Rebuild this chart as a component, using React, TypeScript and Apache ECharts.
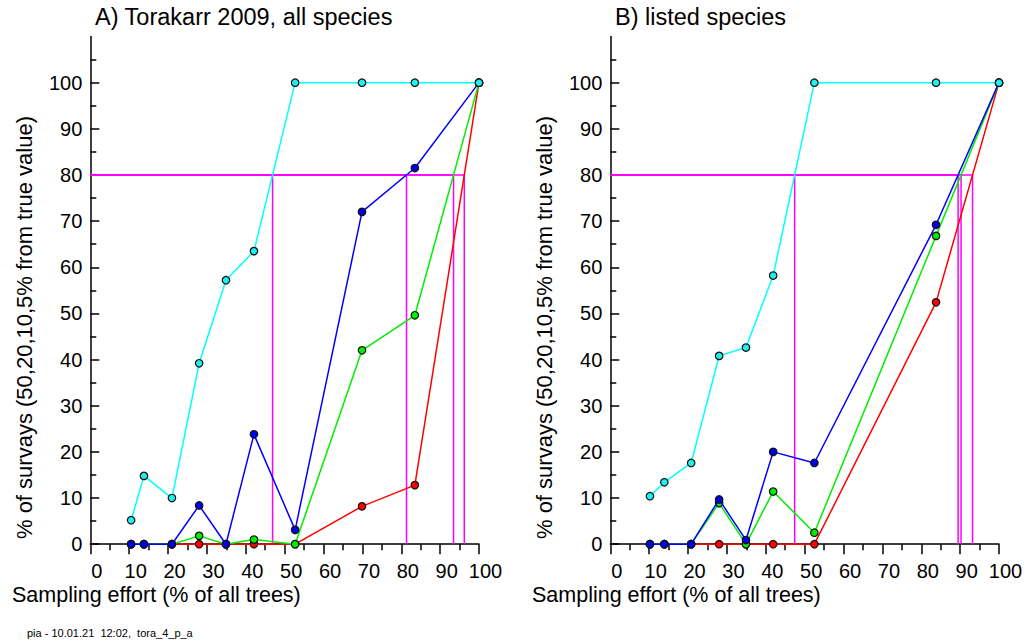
import React, { useEffect, useRef } from "react";
import * as echarts from "echarts";

// ---- data ----
const panelTitles = ["A) Torakarr 2009, all species", "B) listed species"];
const xAxisName = "Sampling effort (% of all trees)";
const yAxisName = "% of survays (50,20,10,5% from true value)";
const footer = "pia - 10.01.21  12:02,  tora_4_p_a";

const yTickValues = [0, 10, 20, 30, 40, 50, 60, 70, 80, 90, 100];
const threshold = 80;

// Panel A
const effortA = [10.5, 13.8, 21.0, 28.0, 34.9, 42.1, 52.7, 69.9, 83.5, 100];
const cyanA = [5.2, 14.8, 10.0, 39.2, 57.2, 63.5, 100, 100, 100, 100];
const blueA = [0, 0, 0, 8.4, 0, 23.8, 3.1, 72.0, 81.5, 100];
const greenA = [0, 0, 0, 1.8, 0, 1.0, 0, 42.0, 49.6, 100];
const redA = [0, 0, 0, 0, 0, 0, 0, 8.2, 12.8, 100];

// Panel B
const effortB = [10.2, 13.9, 20.8, 28.0, 34.9, 41.9, 52.5, 83.8, 100];
const cyanB = [10.4, 13.4, 17.6, 40.8, 42.6, 58.2, 100, 100, 100];
const blueB = [0, 0, 0, 9.7, 0.9, 20.0, 17.6, 69.2, 100];
const greenB = [0, 0, 0, 8.9, 0, 11.4, 2.5, 66.8, 100];
const redB = [0, 0, 0, 0, 0, 0, 0, 52.4, 100];

const seriesColors = {
  red: { line: "#ff0000", fill: "#ff0000" },
  green: { line: "#00ee00", fill: "#00ee00" },
  blue: { line: "#0000ff", fill: "#0000ee" },
  cyan: { line: "#00ffff", fill: "#22eeee" },
};

const FONT = "'Liberation Sans', Arial, Helvetica, sans-serif";

function crossing(xs: number[], ys: number[], level: number): number | null {
  for (let i = 1; i < ys.length; i++) {
    if (ys[i - 1] < level && ys[i] >= level) {
      return xs[i - 1] + ((level - ys[i - 1]) * (xs[i] - xs[i - 1])) / (ys[i] - ys[i - 1]);
    }
  }
  return null;
}

function zip(xs: number[], ys: number[]) {
  return xs.map((x, i) => [x, ys[i]]);
}

function buildPanel(idx: number, xs: number[], groups: { key: keyof typeof seriesColors; vals: number[] }[]) {
  const out: any[] = [];
  // magenta threshold lines
  groups.forEach((g) => {
    const c = crossing(xs, g.vals, threshold);
    if (c === null) return;
    out.push({
      type: "line",
      xAxisIndex: idx,
      yAxisIndex: idx,
      data: [
        [0, threshold],
        [c, threshold],
        [c, 0],
      ],
      symbol: "none",
      lineStyle: { color: "#ff00ff", width: 1.5 },
      silent: true,
      z: 1,
    });
  });
  ["red", "green", "blue", "cyan"].forEach((k, j) => {
    const g = groups.find((gg) => gg.key === k)!;
    const col = seriesColors[g.key];
    out.push({
      type: "line",
      xAxisIndex: idx,
      yAxisIndex: idx,
      data: zip(xs, g.vals),
      symbol: "circle",
      symbolSize: 7.5,
      showAllSymbol: true,
      lineStyle: { color: col.line, width: 1.5 },
      itemStyle: { color: col.fill, borderColor: "#111", borderWidth: 1.2 },
      emphasis: { disabled: true },
      silent: true,
      z: 2 + j,
    });
  });
  return out;
}

const axisLineStyle = { color: "#000", width: 1.5 };

function makeX(idx: number) {
  return {
    type: "value",
    gridIndex: idx,
    min: 0,
    max: 100,
    interval: 10,
    axisLine: { show: true, onZero: false, lineStyle: axisLineStyle },
    axisTick: { show: true, inside: false, length: 10, lineStyle: axisLineStyle },
    minorTick: { show: true, splitNumber: 2, length: 6, lineStyle: axisLineStyle },
    axisLabel: {
      fontSize: 20,
      color: "#000",
      fontFamily: FONT,
      margin: 17,
      padding: [0, 0, 0, 13],
    },
    splitLine: { show: false },
    minorSplitLine: { show: false },
  };
}

function makeY(idx: number) {
  return {
    type: "value",
    gridIndex: idx,
    min: 0,
    max: 110,
    interval: 10,
    axisLine: { show: true, onZero: false, lineStyle: axisLineStyle },
    axisTick: { show: true, inside: true, length: 9, lineStyle: axisLineStyle, customValues: yTickValues },
    minorTick: { show: true, splitNumber: 2, length: 6, lineStyle: axisLineStyle },
    axisLabel: {
      fontSize: 20,
      color: "#000",
      fontFamily: FONT,
      margin: 8,
      formatter: (v: number) => (v > 100 ? "" : String(v)),
    },
    splitLine: { show: false },
    minorSplitLine: { show: false },
  };
}

export default function App() {
  const ref = useRef<HTMLDivElement>(null);
  useEffect(() => {
    if (!ref.current) return;
    const chart = echarts.init(ref.current, undefined, { renderer: "svg" });
    const panelLefts = [90.3, 610.3];
    const option: any = {
      animation: false,
      backgroundColor: "#fff",
      grid: panelLefts.map((l) => ({
        left: l,
        width: 388.7,
        top: 36.5,
        height: 507.7,
        containLabel: false,
        outerBoundsMode: "none",
      })),
      xAxis: [makeX(0), makeX(1)],
      yAxis: [makeY(0), makeY(1)],
      series: [
        ...buildPanel(0, effortA, [
          { key: "red", vals: redA },
          { key: "green", vals: greenA },
          { key: "blue", vals: blueA },
          { key: "cyan", vals: cyanA },
        ]),
        ...buildPanel(1, effortB, [
          { key: "red", vals: redB },
          { key: "green", vals: greenB },
          { key: "blue", vals: blueB },
          { key: "cyan", vals: cyanB },
        ]),
      ],
      graphic: [
        ...panelLefts.map((l, i) => ({
          type: "text",
          x: l + 4.7,
          y: 16.5,
          style: {
            text: panelTitles[i],
            fontSize: 23.5,
            fontFamily: FONT,
            fill: "#000",
            align: "left",
            verticalAlign: "middle",
          },
        })),
        ...panelLefts.map((l) => ({
          type: "text",
          x: l - 65.8,
          y: 327.5,
          rotation: Math.PI / 2,
          style: {
            text: yAxisName,
            fontSize: 22,
            fontFamily: FONT,
            fill: "#000",
            align: "center",
            verticalAlign: "middle",
          },
        })),
        ...panelLefts.map((l) => ({
          type: "text",
          x: l - 78.3,
          y: 595,
          style: {
            text: xAxisName,
            fontSize: 21.5,
            fontFamily: FONT,
            fill: "#000",
            align: "left",
            verticalAlign: "middle",
          },
        })),
        {
          type: "text",
          x: 27,
          y: 633,
          style: {
            text: footer,
            fontSize: 11,
            fontFamily: FONT,
            fill: "#000",
            align: "left",
            verticalAlign: "middle",
          },
        },
      ],
    };
    chart.setOption(option);
    return () => chart.dispose();
  }, []);
  return (
    <div
      ref={ref}
      style={{ position: "fixed", left: 0, top: 0, width: 1032, height: 642, background: "#fff" }}
    />
  );
}
